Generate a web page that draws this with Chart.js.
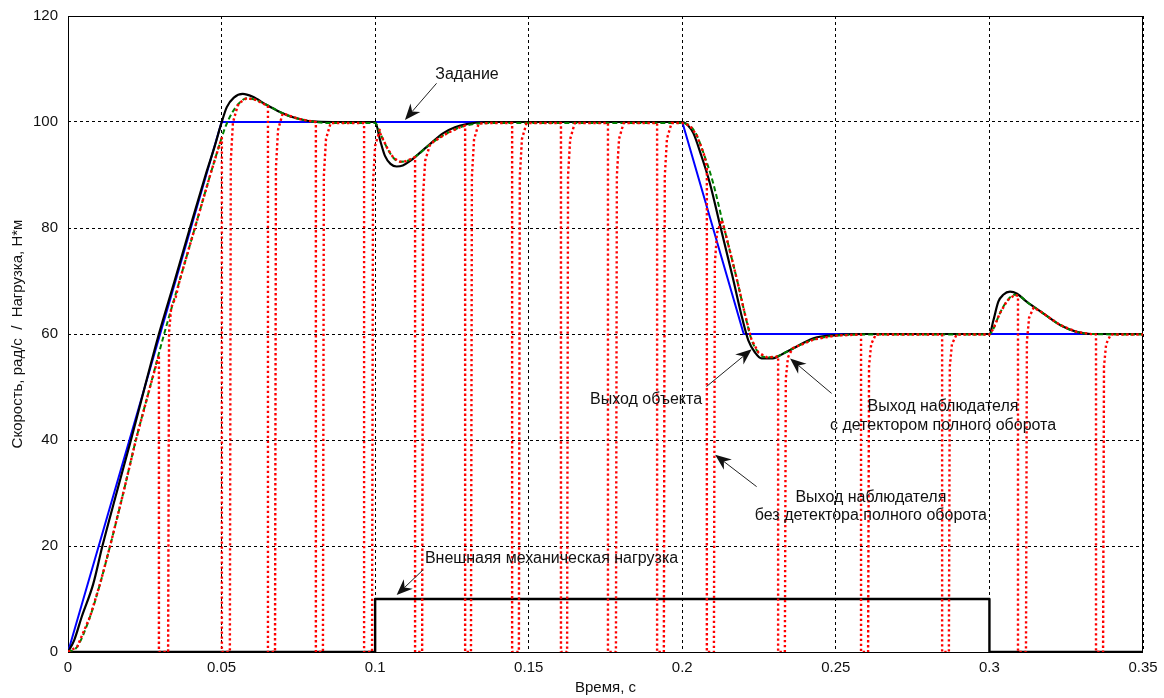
<!DOCTYPE html>
<html>
<head>
<meta charset="utf-8">
<script src="https://cdn.jsdelivr.net/npm/chart.js@4/dist/chart.umd.min.js"></script>
<style>
  body { margin: 0; background: #fff; }
  canvas { display: block; }
</style>
</head>
<body>
<canvas id="speedChart" width="1164" height="698"></canvas>
<script>
// ---- data (time, s / speed, rad/s / load, N*m) ----
const xTicks = [0, 0.05, 0.1, 0.15, 0.2, 0.25, 0.3, 0.35];
const yTicks = [0, 20, 40, 60, 80, 100, 120];

// задание (reference)
const tRef = [0, 0.05, 0.2, 0.22, 0.35];
const vRef = [0, 100, 100, 60, 60];

// внешняя механическая нагрузка
const tLoad = [0, 0.1, 0.1, 0.3, 0.3, 0.35];
const vLoad = [0, 0, 10, 10, 0, 0];

// выход объекта
const tObj = [0, 0.002, 0.0045, 0.0082, 0.0112, 0.0158, 0.0205, 0.025, 0.0296, 0.0347, 0.0397, 0.0448, 0.0478, 0.0498,
  0.0517, 0.054, 0.0569, 0.06, 0.0647, 0.069, 0.0733, 0.0798, 0.086, 0.1, 0.1016, 0.1032, 0.105, 0.107, 0.109, 0.1113,
  0.114, 0.1168, 0.1222, 0.126, 0.1298, 0.136, 0.2, 0.2018, 0.2036, 0.206, 0.209, 0.2123, 0.2163, 0.2195, 0.2215,
  0.2237, 0.2258, 0.2295, 0.2325, 0.2362, 0.2427, 0.2503, 0.26, 0.3, 0.3013, 0.3029, 0.3045, 0.3067, 0.309, 0.3121,
  0.3175, 0.323, 0.3284, 0.333, 0.35];
const vObj = [0, 2.2, 6.7, 12.8, 20, 30, 40, 50, 60, 70, 80, 90, 95.5, 99.5,
  102.8, 104.6, 105.3, 104.8, 103.2, 101.9, 100.9, 100.1, 100, 100, 96.6, 93.6, 92.1, 91.6, 91.8, 92.6,
  93.9, 95.3, 97.9, 99, 99.6, 100, 100, 99.4, 97.9, 94, 88.4, 80.5, 71, 63, 58.8,
  56.5, 55.4, 55.4, 56.2, 57.3, 59.2, 59.8, 60, 60, 62.6, 66.1, 67.4, 68, 67.6, 66.1,
  63.9, 61.7, 60.4, 60, 60];

// выход наблюдателя с детектором полного оборота
const tObs = [0, 0.003, 0.0072, 0.0105, 0.0137, 0.018, 0.0221, 0.0267, 0.0313, 0.0363, 0.0413, 0.0463, 0.0492, 0.0512,
  0.0535, 0.0558, 0.0582, 0.061, 0.0655, 0.07, 0.075, 0.0805, 0.086, 0.1, 0.1016, 0.104, 0.106, 0.1081, 0.11, 0.1124,
  0.119, 0.1235, 0.1276, 0.132, 0.137, 0.2, 0.2025, 0.2047, 0.207, 0.21, 0.2134, 0.2175, 0.2205, 0.2225, 0.2248,
  0.2275, 0.2305, 0.2335, 0.2375, 0.243, 0.25, 0.26, 0.3, 0.3013, 0.3034, 0.3058, 0.3083, 0.3105, 0.3121, 0.3175,
  0.323, 0.3284, 0.333, 0.35];
const vObs = [0, 1, 6.7, 13, 20, 30, 40, 50, 60, 70, 80, 90, 95.5, 99,
  101.8, 103.6, 104.5, 104.2, 103, 101.6, 100.6, 100, 99.8, 99.8, 97.9, 95, 93.2, 92.5, 92.6, 93.2,
  96.3, 97.9, 99, 99.6, 99.8, 99.8, 99.3, 97.5, 94, 88.6, 80.5, 71, 63.5, 59, 56.5,
  55.6, 55.7, 56.5, 57.7, 59, 59.7, 59.9, 59.9, 61, 63.9, 66.3, 67.4, 66.9, 66.1, 63.9,
  61.7, 60.4, 60, 59.9];

// наблюдатель без детектора: провалы до нуля [t провала, v до провала, t подъёма, v после подъёма]
const dropouts = [
  [0.0296, 56, 0.0326, 67], [0.0501, 97, 0.0527, 103], [0.0651, 103, 0.0674, 101.6],
  [0.0807, 100, 0.0830, 99.8], [0.0964, 99.8, 0.0990, 98.5], [0.1130, 93.4, 0.1153, 95.6],
  [0.1293, 99.3, 0.1312, 99.7], [0.1446, 99.8, 0.1468, 99.8], [0.1605, 99.8, 0.1625, 99.8],
  [0.1758, 99.8, 0.1784, 99.8], [0.1918, 99.8, 0.1940, 99.8], [0.2080, 91.5, 0.2103, 81.5],
  [0.2312, 55.8, 0.2334, 57.3], [0.2582, 59.9, 0.2605, 59.9], [0.2846, 59.9, 0.2868, 59.9],
  [0.3093, 67.2, 0.3119, 65], [0.3347, 59.9, 0.3370, 59.9]
];
// shape of the recovery after each dropout: [dt, share of the value after recovery]
const riseShape = [[0, 0], [0.0003, 0.9], [0.001, 0.97], [0.0025, 1]];

// ---- helpers ----
function toPoints(ts, vs) {
  return ts.map((t, i) => ({ x: t, y: vs[i] }));
}

function buildNoDetector() {
  const pts = [];
  tObs.forEach((t, i) => {
    const hidden = dropouts.some(d => t >= d[0] && t <= d[2] + riseShape[riseShape.length - 1][0]);
    if (!hidden) pts.push({ x: t, y: vObs[i] });
  });
  dropouts.forEach(d => {
    pts.push({ x: d[0], y: d[1] });
    pts.push({ x: d[0], y: 0 });
    riseShape.forEach(r => pts.push({ x: d[2] + r[0], y: d[3] * r[1] }));
  });
  return pts.sort((a, b) => a.x - b.x);
}

const FONT = '"Liberation Sans", Arial, sans-serif';

// annotations: text lines in data coords, arrows from -> tip
const notes = [
  { lines: ['Задание'], x: 0.1299, y: 108.9, align: 'center', from: [0.12, 107.3], tip: [0.1097, 100.4] },
  { lines: ['Выход объекта'], x: 0.1882, y: 47.7, align: 'center', from: [0.2079, 50.1], tip: [0.2226, 57.1] },
  { lines: ['Выход наблюдателя', 'с детектором полного оборота'], x: 0.2849, y: 46.3, align: 'center', from: [0.2486, 48.8], tip: [0.2351, 55.4] },
  { lines: ['Выход наблюдателя', 'без детектора полного оборота'], x: 0.2614, y: 29.2, align: 'center', from: [0.2242, 31.2], tip: [0.2107, 37.2] },
  { lines: ['Внешнаяя механическая нагрузка'], x: 0.1162, y: 17.7, align: 'left', from: [0.1156, 15.5], tip: [0.107, 10.75] }
];

// рамка осей (как в MATLAB)
const framePlugin = {
  id: 'frame',
  beforeDatasetsDraw(chart) {
    const { ctx, chartArea: a } = chart;
    ctx.save();
    ctx.strokeStyle = '#000';
    ctx.lineWidth = 1;
    ctx.setLineDash([]);
    ctx.strokeRect(a.left + 0.5, a.top + 0.5, a.right - a.left - 1, a.bottom - a.top);
    ctx.restore();
  }
};

function drawArrow(ctx, x0, y0, x1, y1) {
  const ang = Math.atan2(y1 - y0, x1 - x0);
  const len = 16, half = 6.5, notch = 11;
  ctx.beginPath();
  ctx.moveTo(x0, y0);
  ctx.lineTo(x1 - Math.cos(ang) * notch, y1 - Math.sin(ang) * notch);
  ctx.stroke();
  const bx = x1 - Math.cos(ang) * len, by = y1 - Math.sin(ang) * len;
  const nx = x1 - Math.cos(ang) * notch, ny = y1 - Math.sin(ang) * notch;
  const px = -Math.sin(ang) * half, py = Math.cos(ang) * half;
  ctx.beginPath();
  ctx.moveTo(x1, y1);
  ctx.lineTo(bx + px, by + py);
  ctx.lineTo(nx, ny);
  ctx.lineTo(bx - px, by - py);
  ctx.closePath();
  ctx.fill();
}

const notesPlugin = {
  id: 'notes',
  afterDatasetsDraw(chart) {
    const { ctx, scales: { x, y } } = chart;
    ctx.save();
    ctx.fillStyle = '#111';
    ctx.strokeStyle = '#222';
    ctx.lineWidth = 1;
    ctx.font = '16px ' + FONT;
    ctx.textBaseline = 'middle';
    notes.forEach(n => {
      ctx.textAlign = n.align;
      const px = x.getPixelForValue(n.x);
      const py = y.getPixelForValue(n.y);
      n.lines.forEach((line, i) => ctx.fillText(line, px, py + i * 18.5));
      drawArrow(ctx,
        x.getPixelForValue(n.from[0]), y.getPixelForValue(n.from[1]),
        x.getPixelForValue(n.tip[0]), y.getPixelForValue(n.tip[1]));
    });
    ctx.restore();
  }
};

const chart = new Chart(document.getElementById('speedChart'), {
  type: 'line',
  data: {
    datasets: [
      {
        label: 'Выход наблюдателя без детектора полного оборота',
        data: buildNoDetector(),
        borderColor: '#ff0000', borderWidth: 2.4, borderDash: [2.4, 2.6],
        tension: 0, pointRadius: 0, order: 0
      },
      {
        label: 'Выход наблюдателя с детектором полного оборота',
        data: toPoints(tObs, vObs),
        borderColor: '#008000', borderWidth: 2, borderDash: [5, 3],
        cubicInterpolationMode: 'monotone', pointRadius: 0, order: 1
      },
      {
        label: 'Выход объекта',
        data: toPoints(tObj, vObj),
        borderColor: '#000', borderWidth: 2.2,
        cubicInterpolationMode: 'monotone', pointRadius: 0, order: 2
      },
      {
        label: 'Задание',
        data: toPoints(tRef, vRef),
        borderColor: '#0000ff', borderWidth: 2,
        tension: 0, pointRadius: 0, order: 3
      },
      {
        label: 'Внешняя механическая нагрузка',
        data: toPoints(tLoad, vLoad),
        borderColor: '#000', borderWidth: 2.4,
        tension: 0, pointRadius: 0, order: 4
      }
    ]
  },
  options: {
    responsive: false,
    animation: false,
    layout: { padding: { top: 16, right: 21, left: 0, bottom: 0 } },
    plugins: { legend: { display: false }, tooltip: { enabled: false } },
    elements: { line: { borderCapStyle: 'butt', borderJoinStyle: 'round' } },
    scales: {
      x: {
        type: 'linear',
        min: 0, max: 0.35,
        afterFit(scale) { scale.height = 46; scale.paddingLeft = 0; scale.paddingRight = 0; },
        afterBuildTicks(scale) { scale.ticks = xTicks.map(v => ({ value: v })); },
        grid: { color: '#000', lineWidth: 1, drawTicks: false },
        border: { display: false, dash: [3, 3] },
        ticks: {
          color: '#111', padding: 7, maxRotation: 0,
          font: { family: FONT, size: 15 },
          callback: v => String(Number(v.toFixed(2)))
        },
        title: {
          display: true, text: 'Время, с', color: '#111',
          font: { family: FONT, size: 15 }, padding: { top: 0, bottom: 1 }
        }
      },
      y: {
        min: 0, max: 120,
        afterFit(scale) { scale.width = 68; scale.paddingTop = 0; scale.paddingBottom = 0; },
        afterBuildTicks(scale) { scale.ticks = yTicks.map(v => ({ value: v })); },
        grid: { color: '#000', lineWidth: 1, drawTicks: false },
        border: { display: false, dash: [3, 3] },
        ticks: {
          color: '#111', padding: 10,
          font: { family: FONT, size: 15 }
        },
        title: {
          display: true, text: 'Скорость, рад/с  /  Нагрузка, Н*м', color: '#111',
          font: { family: FONT, size: 15 }, padding: { top: 9, bottom: 0 }
        }
      }
    }
  },
  plugins: [framePlugin, notesPlugin]
});
</script>
</body>
</html>
